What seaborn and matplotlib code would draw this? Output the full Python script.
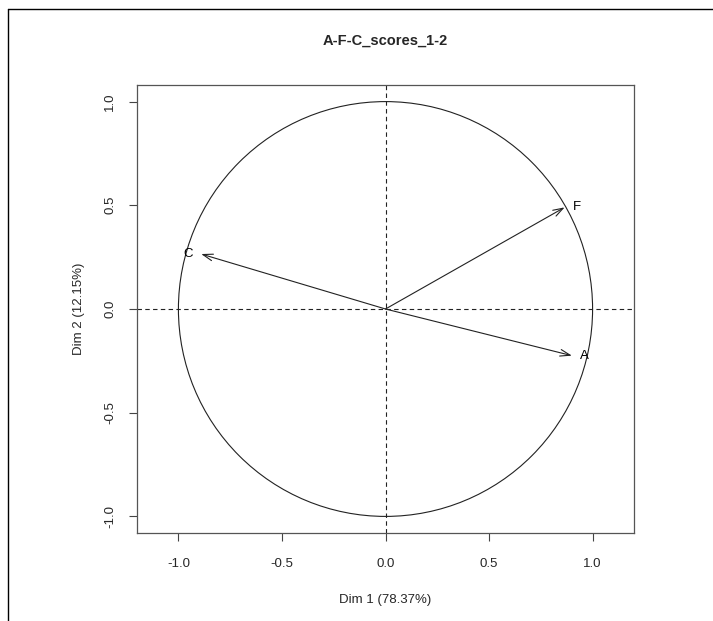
import numpy as np
import pandas as pd
import matplotlib
matplotlib.use("Agg")
import matplotlib.pyplot as plt
from matplotlib.lines import Line2D
from matplotlib.patches import Circle
import seaborn as sns

# variable coordinates on the first two dimensions
variables = ["A", "F", "C"]
dim1 = [0.90, 0.865, -0.89]
dim2 = [-0.225, 0.49, 0.265]
label_side = ["right", "right", "left"]

title = "A-F-C_scores_1-2"
xlabel = "Dim 1 (78.37%)"
ylabel = "Dim 2 (12.15%)"
ticks = [-1.0, -0.5, 0.0, 0.5, 1.0]

df = pd.DataFrame({"var": variables, "x": dim1, "y": dim2, "side": label_side})

sns.set_theme(style="white")
plt.rcParams["font.family"] = ["Liberation Sans", "DejaVu Sans"]

fig = plt.figure(figsize=(7.13, 6.21), dpi=100)
ax = fig.add_axes([137 / 713, 1 - 533 / 621, 497 / 713, 448 / 621])

# frame around the picture (top and left edge)
fig.add_artist(Line2D([8 / 713, 1], [1 - 9 / 621, 1 - 9 / 621], color="black", lw=1.0))
fig.add_artist(Line2D([8 / 713, 8 / 713], [0, 1 - 9 / 621], color="black", lw=1.0))

ax.add_patch(Circle((0, 0), 1.0, fill=False, color="#222222", lw=0.8))
ax.axhline(0, color="#222222", lw=0.8, ls=(0, (4, 3)))
ax.axvline(0, color="#222222", lw=0.8, ls=(0, (4, 3)))

for _, r in df.iterrows():
    ax.annotate("", xy=(r["x"], r["y"]), xytext=(0, 0),
                arrowprops=dict(arrowstyle="->,head_length=0.6,head_width=0.2",
                                color="#222222", lw=0.8, shrinkA=0, shrinkB=0))
    dx = 6 if r["side"] == "right" else -6
    ax.annotate(r["var"], xy=(r["x"], r["y"]), xytext=(dx, 0),
                textcoords="offset points",
                ha="left" if r["side"] == "right" else "right",
                va="center", fontsize=9.5, color="black")

ax.set_xlim(-1.2, 1.2)
ax.set_ylim(-1.08, 1.08)
ax.set_xticks(ticks)
ax.set_yticks(ticks)
ax.set_xticklabels([f"{t:.1f}" for t in ticks], fontsize=9.5)
ax.set_yticklabels([f"{t:.1f}" for t in ticks], fontsize=9.5, rotation=90, va="center")
ax.tick_params(axis="both", direction="out", length=6, width=0.8, color="#444444",
               bottom=True, left=True)
ax.tick_params(axis="x", pad=12)
ax.tick_params(axis="y", pad=9)
for s in ax.spines.values():
    s.set_color("#555555")
    s.set_linewidth(0.9)

ax.set_xlabel(xlabel, fontsize=9.5, labelpad=17)
ax.set_ylabel(ylabel, fontsize=9.5, labelpad=14)
ax.set_title(title, fontsize=10.5, fontweight="bold", pad=29)

fig.savefig("out.png", dpi=100, facecolor="white")
